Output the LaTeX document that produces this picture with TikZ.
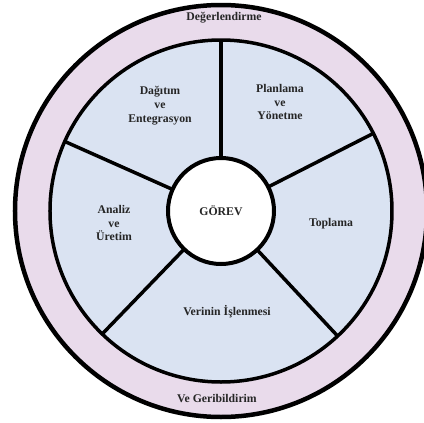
\documentclass[tikz,border=0pt]{standalone}
\usepackage{fontspec}
\setmainfont{Liberation Serif}
\definecolor{ringpink}{RGB}{233,219,235}
\definecolor{wedgeblue}{RGB}{218,227,242}
\begin{document}
\begin{tikzpicture}[x=1bp, y=1bp,
    disc/.style={circle, draw, inner sep=0pt, outer sep=0pt},
    lbl/.style={font=\bfseries\fontsize{11.8}{14}\selectfont, text=black!85, align=center}]
    \useasboundingbox (-221,-212) rectangle (203,211);
    \node[disc, fill=ringpink, line width=4.5bp, minimum size=412bp] (outer) at (0,0) {};
    \node[disc, fill=wedgeblue, line width=3.5bp, minimum size=342bp] (inner) at (0,0) {};
    \node[disc, fill=white, line width=4bp, minimum size=106bp, lbl] (gorev) at (0,0) {GÖREV};
    \foreach \a in {90,27,-47,226,156}{
        \draw[line width=3.5bp] (gorev.\a) -- (inner.\a);
    };
    \node[lbl] (eval) at (3,193) {Değerlendirme};
    \node[lbl] (feedback) at (-4,-188) {Ve Geribildirim};
    \node[lbl] (distrib) at (-61,105) {Dağıtım\\ve\\Entegrasyon};
    \node[lbl] (plan) at (59,109) {Planlama\\ve\\Yönetme};
    \node[lbl] (analysis) at (-107,-12) {Analiz\\ve\\Üretim};
    \node[lbl] (collect) at (110,-13) {Toplama};
    \node[lbl] (process) at (6,-101) {Verinin İşlenmesi};
\end{tikzpicture}
\end{document}
